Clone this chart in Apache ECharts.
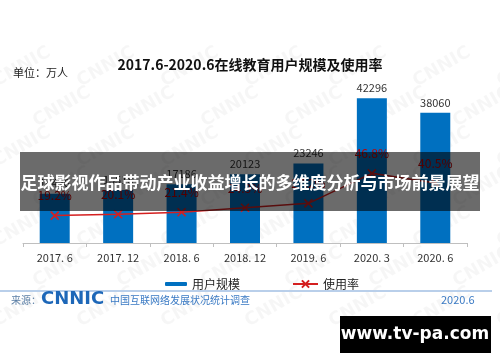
<!DOCTYPE html>
<html><head><meta charset="utf-8">
<script src="https://cdn.jsdelivr.net/npm/echarts@6/dist/echarts.min.js"></script>
<style>html,body{margin:0;padding:0;background:#fff}#c{width:500px;height:362px}</style>
</head><body><div id="c"></div>
<script>
const categories = ['2017. 6','2017. 12','2018. 6','2018. 12','2019. 6','2020. 3','2020. 6'];
const users = [14426, 15518, 17186, 20123, 23246, 42296, 38060];
const rates = [19.2, 20.1, 21.4, 24.3, 27.2, 46.8, 40.5];
const seriesNames = ['用户规模', '使用率'];
const titleText = '2017.6-2020.6在线教育用户规模及使用率';
const unitText = '单位：万人';
const bannerText = '足球影视作品带动产业收益增长的多维度分析与市场前景展望';

const FONT = '"Noto Sans CJK SC", "Noto Sans", sans-serif';
const chart = echarts.init(document.getElementById('c'), null, {renderer: 'canvas'});

const wm = [];
for (let r = 0; r < 7; r++) {
  for (let c = 0; c < 7; c++) {
    const x = c * 84 + (r % 2 ? 40 : 0) - 10;
    const y = 75 + r * 40;
    wm.push({type: 'text', x: x, y: y, rotation: Math.PI / 6, z: 0, silent: true,
      style: {text: 'CNNIC', fill: 'rgba(0,0,0,0.035)', font: 'bold 18px "DejaVu Sans", sans-serif'}});
  }
}

const option = {
  backgroundColor: '#fff',
  animation: false,
  textStyle: {fontFamily: FONT},
  title: {text: titleText, left: 'center', top: 53, itemGap: 0,
    textStyle: {fontSize: 14, fontWeight: 'bold', color: '#111', fontFamily: FONT}},
  grid: {left: 23, right: 33, top: 72, bottom: 119},
  legend: [
    {data: [seriesNames[0]], left: 160, top: 273, itemWidth: 22, itemHeight: 4, itemGap: 4,
      textStyle: {fontSize: 12, color: '#222', fontFamily: FONT}},
    {data: [seriesNames[1]], left: 287, top: 273, itemWidth: 25, itemHeight: 9, itemGap: 4,
      textStyle: {fontSize: 12, color: '#222', fontFamily: FONT}}
  ],
  xAxis: {type: 'category', data: categories, boundaryGap: true,
    axisLine: {lineStyle: {color: '#bfbfbf', width: 1}},
    axisTick: {show: true, length: 4, lineStyle: {color: '#bfbfbf'}},
    axisLabel: {fontSize: 11, color: '#333', margin: 9, fontFamily: FONT}},
  yAxis: [
    {type: 'value', min: 0, max: 50000, show: false, splitLine: {show: false}},
    {type: 'value', min: 1.3, max: 113, show: false, splitLine: {show: false}}
  ],
  series: [
    {name: seriesNames[0], type: 'bar', data: users, barWidth: 30, z: 2,
      itemStyle: {color: '#0070c0'},
      label: {show: true, position: 'top', distance: 5, fontSize: 11, color: '#333', fontFamily: FONT}},
    {name: seriesNames[1], type: 'line', yAxisIndex: 1, data: rates, z: 3,
      symbol: 'path://M0 0L10 10M10 0L0 10', symbolSize: 8,
      lineStyle: {color: '#d41f1f', width: 1.5},
      itemStyle: {color: '#d41f1f', borderColor: '#d41f1f', borderWidth: 1.6},
      label: {show: true, position: 'top', distance: 9, fontSize: 12, color: '#c00000',
        formatter: p => p.value.toFixed(1) + '%', fontFamily: FONT}}
  ],
  graphic: wm.concat([
    {type: 'rect', shape: {x: 0, y: 0, width: 500, height: 44}, z: 1, silent: true, style: {fill: '#fff'}},
    {type: 'text', left: 13, top: 67, z: 5, style: {text: unitText, fill: '#222', font: '11px ' + FONT}},
    {type: 'rect', shape: {x: 0, y: 290, width: 492, height: 2}, z: 5, style: {fill: '#b9cfea'}},
    {type: 'text', left: 11, top: 295, z: 5, style: {text: '来源：', fill: '#5b7fa6', font: '10px ' + FONT}},
    {type: 'text', left: 41, top: 290, z: 5, style: {text: 'CNNIC', fill: '#1d67b8', font: '900 18px "DejaVu Sans", sans-serif'}},
    {type: 'text', left: 110, top: 295, z: 5, style: {text: '中国互联网络发展状况统计调查', fill: '#3a7ac4', font: '10px ' + FONT}},
    {type: 'text', left: 441, top: 294, z: 5, style: {text: '2020.6', fill: '#3a7ac4', font: '11px ' + FONT}},
    {type: 'rect', shape: {x: 20, y: 152, width: 460, height: 59}, z: 100, style: {fill: 'rgba(0,0,0,0.58)'}},
    {type: 'text', x: 250, y: 183, z: 101, style: {text: bannerText, fill: '#fff', align: 'center', verticalAlign: 'middle', font: 'bold 17px ' + FONT}},
    {type: 'rect', shape: {x: 340, y: 316, width: 151, height: 37}, z: 100, style: {fill: '#000'}},
    {type: 'text', x: 415, y: 335, z: 101, style: {text: 'www.tv-pa.com', fill: '#fff', align: 'center', verticalAlign: 'middle', font: 'bold 17px "DejaVu Sans", sans-serif'}}
  ])
};
chart.setOption(option);
</script></body></html>
